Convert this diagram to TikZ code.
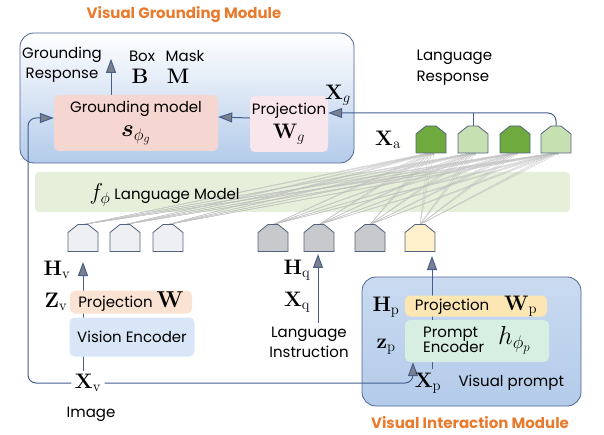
\RequirePackage{fix-cm}
\documentclass[tikz,border=0pt]{standalone}
\usepackage{amsmath,bm}
\usepackage[no-math]{fontspec}
\setmainfont{Poppins}
\usetikzlibrary{arrows.meta,backgrounds}

\definecolor{orangetxt}{HTML}{E97B2E}
\definecolor{modline}{HTML}{4F6593}
\definecolor{modblue}{HTML}{B3CBEA}
\definecolor{lineblue}{HTML}{455E8E}
\definecolor{tipgray}{HTML}{7C828C}
\definecolor{gmpink}{HTML}{F6D6D0}
\definecolor{projpink}{HTML}{F9E6EC}
\definecolor{bandgreen}{HTML}{E5EFD9}
\definecolor{tokline}{HTML}{55627E}
\definecolor{tokwhite}{HTML}{EEEFF3}
\definecolor{tokgray}{HTML}{C8C9CC}
\definecolor{tokyellow}{HTML}{FDF0CB}
\definecolor{tokdark}{HTML}{6FAA3E}
\definecolor{toklight}{HTML}{C6E0B2}
\definecolor{peach}{HTML}{FBE3D3}
\definecolor{encblue}{HTML}{D8E6F7}
\definecolor{projyellow}{HTML}{FCE6B3}
\definecolor{mint}{HTML}{D6EFE2}

\newcommand\mathsize{\fontsize{21}{23}\selectfont}

\begin{document}
\begin{tikzpicture}[x={(1pt,0pt)},y={(0pt,-1pt)},font=\fontsize{15}{19}\selectfont,
  mth/.style={font=\mathsize},
  title/.style={font=\bfseries\fontsize{15}{17}\selectfont,text=orangetxt},
  box/.style={rounded corners=5pt,align=center,inner sep=0pt},
  module/.style={draw=modline,line width=0.8pt,rounded corners=14pt},
  arr/.style={draw=lineblue,line width=1pt,-{Triangle[length=14pt,width=10pt,fill=tipgray]}},
  fan/.style={draw=gray!50,line width=0.25pt,-{Stealth[length=2.5pt,width=2pt]}},
  pics/token/.style={code={
    \draw[tokline,line width=0.8pt,fill=#1] (-15,13.5) -- (15,13.5) -- (15,-5.5) -- (5,-13.5) -- (-5,-13.5) -- (-15,-5.5) -- cycle;
    \coordinate (-top) at (0,-13.5);
    \coordinate (-bot) at (0,13.5);}}]
\useasboundingbox (0,0) rectangle (604,435);

% titles
\node[title] (vgm) at (184,15) {Visual Grounding Module};
\node[title] (vim) at (470,423) {Visual Interaction Module};

% grounding module
\node[box,fill=gmpink,minimum width=164,minimum height=56] (gm) at (136,123) {Grounding model\\[5pt]{\fontsize{24}{26}\selectfont$\bm{s}_{\phi_g}$}};
\node[box,fill=projpink,minimum width=78,minimum height=56] (projg) at (289,124) {Projection\\[5pt]{\mathsize$\mathbf{W}_g$}};
\node[align=center,font=\fontsize{15}{20}\selectfont] (gresp) at (62,65) {Grounding\\Response};
\node (box) at (142,56) {Box};
\node (mask) at (185,56) {Mask};
\node[mth] (bb) at (140,76) {$\mathbf{B}$};
\node[mth] (mm) at (178,76) {$\mathbf{M}$};
\node[mth] (xg) at (338,95) {$\mathbf{X}_g$};

% language response
\node[align=left,anchor=west,font=\fontsize{15}{21}\selectfont] (lresp) at (413,68) {Language\\Response};
\node[mth] (xa) at (388,140) {$\mathbf{X}_{\mathrm{a}}$};
\foreach \n/\x/\c in {t1/431/tokdark,t2/473/toklight,t3/515/tokdark,t4/556/toklight}
  \pic (\n) at (\x,139.5) {token=\c};

% language model
\node[anchor=west] (lm) at (86,195) {{\fontsize{23}{25}\selectfont$f_\phi$} Language Model};

% input tokens
\foreach \n/\x/\c in {b1/83/tokwhite,b2/125/tokwhite,b3/168/tokwhite,b4/273/tokgray,b5/319/tokgray,b6/370/tokgray,b7/420/tokyellow}
  \pic (\n) at (\x,238) {token=\c};
\coordinate (hv) at (83,262);
\coordinate (hq) at (318,254);
\coordinate (hp) at (432,256);

% vision branch
\node[mth] (hvl) at (57,270) {$\mathbf{H}_{\mathrm{v}}$};
\node[mth] (zvl) at (56,302) {$\mathbf{Z}_{\mathrm{v}}$};
\node[box,fill=peach,minimum width=122,minimum height=23] (projw) at (131,302) {Projection {\fontsize{23}{25}\selectfont$\mathbf{W}$}};
\node[box,fill=encblue,minimum width=125,minimum height=39] (ve) at (132,337) {Vision Encoder};
\node[mth] (xv) at (88,383) {$\mathbf{X}_{\mathrm{v}}$};
\node (img) at (91,414) {Image};

% instruction branch
\node[mth] (hql) at (297,270) {$\mathbf{H}_{\mathrm{q}}$};
\node[mth] (xql) at (297,302) {$\mathbf{X}_{\mathrm{q}}$};
\node[align=center,font=\fontsize{15}{20}\selectfont] (instr) at (309,342) {Language\\Instruction};

% visual interaction module
\node[mth] (hpl) at (386,307) {$\mathbf{H}_{\mathrm{p}}$};
\node[mth] (zpl) at (386,347) {$\mathbf{z}_{\mathrm{p}}$};
\node[box,fill=projyellow,minimum width=142,minimum height=21] (projp) at (476,306) {Projection\quad{\mathsize$\mathbf{W}_{\mathrm{p}}$}};
\node[box,fill=mint,minimum width=144,minimum height=42] (pe) at (477,341) {\begin{tabular}{@{}l@{}}Prompt\\[-4pt]Encoder\end{tabular}\hspace{14pt}{\fontsize{26}{28}\selectfont$h_{\phi_p}$}};
\node[mth] (xp) at (428,383) {$\mathbf{X}_{\mathrm{p}}$};
\node[anchor=west] (vp) at (455,383) {Visual prompt};

\begin{scope}[on background layer]
\draw[module,top color=white,bottom color=modblue] (20,33) rectangle (354,163);
\draw[module,top color=modblue!70,middle color=modblue!35,bottom color=modblue] (362,277) rectangle (581,406);
\fill[bandgreen,rounded corners=4pt] (35,172) rectangle (570,212);
\foreach \i in {1,...,7}
  \foreach \j in {1,...,4}
    \foreach \d in {-3,0,3}
      \draw[fan] (b\i-top) -- ([xshift=\d pt]t\j-bot);
\draw[arr] (xv.north -| hv) -- (hv);
\draw[arr] (instr.north -| hq) -- (hq);
\draw[arr] (xp.north -| hp) -- (hp);
\draw[arr] ([xshift=-25pt]gm.north) -- ++(0,-36);
\draw[arr] ([yshift=6pt]projg.west) -- ([yshift=6pt]gm.east);
\draw[arr,rounded corners=8pt] (t4-top) |- ([yshift=11pt]projg.east);
\draw[draw=lineblue,line width=1pt] (t2-top) -- ++(0,-13);
\draw[arr,rounded corners=8pt] (xv.west) -| (28,118) -- ([yshift=5pt]gm.west);
\draw[arr,rounded corners=8pt] (xv.east) -| ([xshift=-64pt]pe.south);
\end{scope}
\end{tikzpicture}
\end{document}
